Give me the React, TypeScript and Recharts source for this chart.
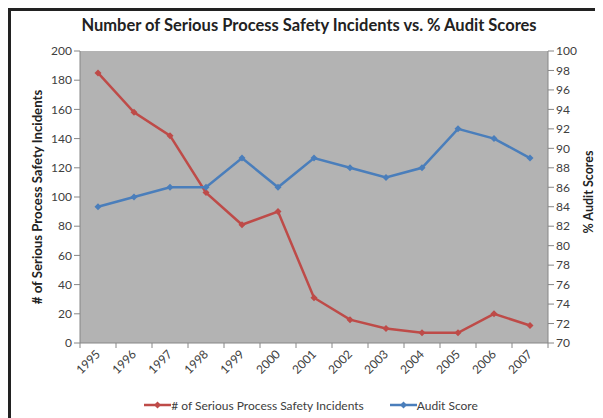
import {
  CartesianGrid,
  Legend,
  Line,
  LineChart,
  XAxis,
  YAxis
} from "recharts";

const years = ['1995', '1996', '1997', '1998', '1999', '2000', '2001', '2002', '2003', '2004', '2005', '2006', '2007'];
const incidents = [185, 158, 142, 103, 81, 90, 31, 16, 10, 7, 7, 20, 12];
const auditScores = [84, 85, 86, 86, 89, 86, 89, 88, 87, 88, 92, 91, 89];
const leftTicks = [0, 20, 40, 60, 80, 100, 120, 140, 160, 180, 200];
const rightTicks = [70, 72, 74, 76, 78, 80, 82, 84, 86, 88, 90, 92, 94, 96, 98, 100];

const chartData = years.map((year, i) => ({
  year,
  incidents: incidents[i],
  audit: auditScores[i]
}));

const RED = '#BE4B48';
const BLUE = '#4A7EBB';
const AXIS = '#868686';
const FONT = 'Lato, "Liberation Sans", sans-serif';
const BAND = 36;

const Diamond = ({ cx, cy, fill }: any) => {
  if (cx == null || cy == null) return null;
  return <polygon points={`${cx},${cy - 3.5} ${cx + 3.5},${cy} ${cx},${cy + 3.5} ${cx - 3.5},${cy}`} fill={fill} />;
};

const YearTick = ({ x, y, payload, index }: any) => {
  const last = index === years.length - 1;
  return (
    <g>
      <line x1={x - BAND / 2} y1={y - 8} x2={x - BAND / 2} y2={y - 3} stroke={AXIS} />
      {last && <line x1={x + BAND / 2} y1={y - 8} x2={x + BAND / 2} y2={y - 3} stroke={AXIS} />}
      <text
        x={x + 3}
        y={y + 4}
        textAnchor="end"
        fontSize={12}
        fill="#404040"
        fontFamily={FONT}
        transform={`rotate(-45, ${x + 3}, ${y + 4})`}
      >
        {payload.value}
      </text>
    </g>
  );
};

const LegendContent = () => (
  <div style={{ display: 'flex', justifyContent: 'center', alignItems: 'center', height: 18, fontFamily: FONT, fontSize: 12, color: '#404040', paddingLeft: 4 }}>
    {[{ label: '# of Serious Process Safety Incidents', color: RED }, { label: 'Audit Score', color: BLUE }].map((item, i) => (
      <div key={item.label} style={{ display: 'flex', alignItems: 'center', marginLeft: i ? 26 : 0 }}>
        <svg width={27} height={10}>
          <line x1={0} y1={5} x2={27} y2={5} stroke={item.color} strokeWidth={2.5} />
          <polygon points="13.5,1.5 17,5 13.5,8.5 10,5" fill={item.color} />
        </svg>
        <span>{item.label}</span>
      </div>
    ))}
  </div>
);

export default function App() {
  return (
    <div style={{ position: 'relative', width: 595, height: 410, borderLeft: '3px solid #222', borderTop: '3px solid #222', background: '#fff' }}>
      <div style={{ position: 'absolute', top: 4, left: 2, width: 592, textAlign: 'center', fontFamily: FONT, fontWeight: 'bold', fontSize: 16.5, color: '#222' }}>
        Number of Serious Process Safety Incidents vs. % Audit Scores
      </div>
      <LineChart width={592} height={407} data={chartData} margin={{ top: 40, right: 10, left: 14, bottom: 4 }}>
        <CartesianGrid fill="#b3b3b3" stroke="none" horizontal={false} vertical={false} />
        <XAxis
          dataKey="year"
          stroke={AXIS}
          tickLine={false}
          interval={0}
          height={53}
          padding={{ left: BAND / 2, right: BAND / 2 }}
          tick={(p: any) => <YearTick {...p} />}
        />
        <YAxis
          yAxisId="left"
          domain={[0, 200]}
          ticks={leftTicks}
          interval={0}
          width={55}
          stroke={AXIS}
          tickSize={6}
          tick={{ fontSize: 12, fill: '#404040', fontFamily: FONT }}
          label={{
            content: ({ viewBox }: any) => (
              <text
                x={viewBox.x + 12}
                y={viewBox.y + viewBox.height / 2}
                transform={`rotate(-90, ${viewBox.x + 12}, ${viewBox.y + viewBox.height / 2})`}
                textAnchor="middle"
                dominantBaseline="central"
                fontSize={13.2}
                fontWeight="bold"
                fontFamily={FONT}
                fill="#222"
              >
                # of Serious Process Safety Incidents
              </text>
            )
          }}
        />
        <YAxis
          yAxisId="right"
          orientation="right"
          domain={[70, 100]}
          ticks={rightTicks}
          interval={0}
          width={45}
          stroke={AXIS}
          tickSize={6}
          tick={{ fontSize: 12, fill: '#404040', fontFamily: FONT }}
          label={{
            content: ({ viewBox }: any) => (
              <text
                x={viewBox.x + 40}
                y={viewBox.y + viewBox.height / 2 - 5}
                transform={`rotate(-90, ${viewBox.x + 40}, ${viewBox.y + viewBox.height / 2 - 5})`}
                textAnchor="middle"
                dominantBaseline="central"
                fontSize={12.5}
                fontWeight="bold"
                fontFamily={FONT}
                fill="#222"
              >
                % Audit Scores
              </text>
            )
          }}
        />
        <Legend content={<LegendContent />} />
        <Line
          yAxisId="left"
          type="linear"
          dataKey="incidents"
          name="# of Serious Process Safety Incidents"
          stroke={RED}
          strokeWidth={2.5}
          dot={(p: any) => <Diamond key={p.index} {...p} fill={RED} />}
          isAnimationActive={false}
        />
        <Line
          yAxisId="right"
          type="linear"
          dataKey="audit"
          name="Audit Score"
          stroke={BLUE}
          strokeWidth={2.5}
          dot={(p: any) => <Diamond key={p.index} {...p} fill={BLUE} />}
          isAnimationActive={false}
        />
      </LineChart>
    </div>
  );
}
